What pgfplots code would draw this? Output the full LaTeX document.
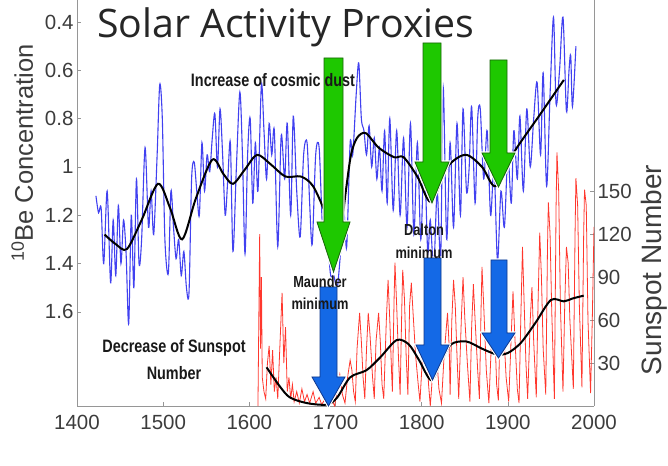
\documentclass[border=0pt]{standalone}
\usepackage{fontspec}
\setmainfont{Liberation Sans}
\newfontfamily\titlefont{Open Sans}
\newfontfamily\narrowbold[FakeStretch=0.8]{Liberation Sans}
\usepackage{graphicx}
\usepackage{pgfplots}
\usepackage{pgfplotstable}
\pgfplotsset{compat=1.18}
\definecolor{bline}{RGB}{65,65,240}
\definecolor{rline}{RGB}{255,55,45}
\definecolor{garrow}{RGB}{30,200,0}
\definecolor{garrowd}{RGB}{25,100,10}
\definecolor{barrow}{RGB}{20,105,230}
\definecolor{barrowd}{RGB}{15,55,140}
\definecolor{axgray}{RGB}{150,150,150}
\definecolor{txtgray}{RGB}{60,60,60}

\pgfplotstableread{
year be
1422 1.12
1425 1.19
1428 1.17
1431 1.40
1435 1.10
1439 1.48
1442 1.22
1445 1.45
1448 1.16
1451 1.40
1454 1.22
1457 1.36
1460 1.65
1463 1.20
1466 1.50
1469 1.05
1472 1.40
1475 1.30
1479 0.92
1483 1.25
1486 1.10
1489 1.28
1493 0.95
1496 0.66
1499 0.80
1502 1.30
1506 1.44
1509 1.10
1512 1.25
1515 1.38
1518 1.30
1521 1.45
1524 1.35
1527 1.50
1530 1.52
1533 1.05
1536 0.98
1539 1.10
1542 1.20
1545 0.90
1548 1.10
1551 0.95
1554 1.02
1557 0.88
1560 0.78
1563 1.00
1566 0.76
1569 0.95
1572 1.20
1575 1.05
1578 0.90
1581 1.35
1585 1.00
1589 0.69
1592 0.95
1595 1.36
1598 0.95
1601 0.80
1604 1.15
1607 0.90
1610 1.10
1614 0.66
1617 0.85
1620 1.05
1623 0.82
1626 0.95
1629 0.85
1633 1.33
1637 0.87
1641 1.05
1644 0.82
1648 1.20
1651 0.79
1655 1.10
1659 1.29
1663 0.95
1667 0.90
1670 1.15
1673 1.32
1677 0.95
1681 0.92
1685 1.25
1689 1.20
1694 1.44
1698 1.45
1702 1.50
1706 1.35
1710 1.20
1713 1.33
1717 0.90
1720 0.95
1724 0.70
1727 0.57
1730 0.80
1733 0.85
1736 0.95
1739 0.83
1742 1.00
1745 0.88
1748 1.05
1751 0.92
1754 1.10
1757 0.85
1760 1.15
1763 0.80
1767 1.18
1771 0.85
1775 1.20
1779 0.88
1783 1.25
1787 0.82
1791 1.28
1795 0.90
1799 1.30
1803 0.95
1807 1.35
1810 1.22
1814 1.42
1818 1.10
1822 1.38
1825 0.67
1829 1.30
1833 0.90
1837 1.25
1841 0.82
1845 1.20
1848 0.76
1852 1.10
1855 1.01
1858 0.75
1862 1.15
1865 0.80
1868 0.76
1872 1.05
1876 0.85
1880 1.20
1884 1.00
1888 1.39
1892 1.10
1896 1.25
1900 0.95
1904 1.15
1907 0.85
1911 1.05
1914 0.79
1918 1.10
1922 0.76
1926 1.00
1930 0.80
1934 0.65
1938 0.95
1941 0.61
1945 1.08
1949 0.70
1953 0.38
1956 0.74
1960 0.60
1964 0.38
1968 0.77
1971 0.60
1973 0.54
1975 0.75
1979 0.50
}\beData

\pgfplotstableread{
year be
1432 1.28
1445 1.32
1458 1.34
1475 1.22
1494 1.07
1508 1.17
1522 1.30
1538 1.13
1557 0.97
1570 1.03
1581 1.07
1595 1.01
1609 0.95
1625 0.99
1642 1.04
1660 1.04
1674 1.08
1688 1.19
1698 1.30
1706 1.26
1712 1.10
1718 0.95
1725 0.88
1735 0.86
1750 0.92
1768 0.96
1779 0.96
1795 1.04
1811 1.145
1830 1.00
1851 0.95
1870 1.00
1886 1.08
1907 0.94
1938 0.78
1965 0.64
}\beSmooth

\pgfplotstableread{
year ssn
1610 0
1611 60
1612 120
1613 40
1614 90
1615 20
1617 10
1619 5
1621 30
1623 42
1625 15
1627 39
1629 10
1631 20
1633 5
1636 50
1638 79
1640 30
1642 55
1644 10
1646 20
1648 5
1650 15
1652 3
1655 10
1658 2
1661 12
1664 3
1667 8
1670 2
1674 10
1677 2
1681 6
1684 1
1688 5
1692 0
1696 4
1699 0
1703 15
1705 22
1708 8
1711 2
1714 20
1717 32
1719 25
1721 10
1723 3
1725 40
1728 65
1730 45
1732 20
1734 5
1736 40
1738 65
1740 50
1743 20
1745 5
1747 45
1750 65
1752 45
1754 15
1756 5
1759 60
1761 88
1763 60
1765 25
1766 10
1768 75
1769 100
1771 70
1773 35
1775 8
1777 70
1778 95
1780 75
1782 35
1784 8
1786 70
1788 86
1790 65
1793 35
1796 15
1798 3
1801 35
1804 55
1806 35
1808 15
1810 0
1813 25
1816 50
1818 30
1820 12
1823 2
1826 35
1830 65
1832 40
1833 8
1835 60
1837 88
1839 70
1841 35
1843 5
1846 60
1848 90
1850 62
1853 30
1856 3
1858 55
1860 85
1862 60
1865 25
1867 5
1869 70
1870 97
1872 70
1875 25
1878 2
1881 45
1883 70
1885 50
1887 15
1889 4
1891 55
1893 76
1895 55
1898 20
1901 3
1904 50
1906 80
1908 50
1911 12
1913 2
1915 60
1917 111
1919 70
1921 30
1923 5
1926 60
1928 83
1930 45
1933 6
1935 70
1937 121
1939 90
1941 40
1944 8
1946 110
1947 142
1949 120
1951 65
1954 5
1956 140
1957 177
1959 150
1961 70
1964 10
1966 70
1968 111
1970 100
1972 60
1976 12
1978 120
1979 159
1981 140
1983 70
1986 13
1988 120
1989 151
1991 140
1993 60
1996 9
1998 60
2000 125
}\ssnData

\pgfplotstableread{
year ssn
1620 27
1635 14
1647 6
1667 2
1690 1
1702 6
1717 20
1736 25
1752 34
1771 46
1785 43
1797 32
1811 18
1822 30
1834 43
1852 45
1870 40
1887 36
1900 37
1915 44
1932 58
1950 74
1965 73
1975 75
1988 77
}\ssnSmooth

\begin{document}
\begin{tikzpicture}[x=1pt,y=1pt]
\useasboundingbox (-77,-59) rectangle (591,406);
% Axis A: Be scale, blue series
\begin{axis}[at={(0,0)}, anchor=south west, width=517pt, height=406pt, scale only axis,
  xmin=1400, xmax=2000, ymin=0.309, ymax=1.99, y dir=reverse,
  axis x line*=bottom, axis y line*=left,
  axis line style={axgray, line width=0.8pt},
  tick style={axgray, line width=0.6pt}, tick align=inside, major tick length=4pt,
  xtick={1400,1500,1600,1700,1800,1900,2000},
  xticklabels={1400,1500,1600,1700,1800,1900,2000},
  ytick={0.4,0.6,0.8,1,1.2,1.4,1.6},
  yticklabels={0.4,0.6,0.8,1,1.2,1.4,1.6},
  /pgf/number format/assume math mode=true,
  ticklabel style={font=\fontsize{20.5}{20.5}\selectfont, text=txtgray},
  xticklabel style={yshift=-6pt},
  clip=true]
\addplot[bline, line width=1.1pt, smooth, tension=0.5] table[x=year,y=be]{\beData};
\end{axis}
% Axis B: sunspot scale, red series and its smooth curve
\begin{axis}[at={(0,0)}, anchor=south west, width=517pt, height=406pt, scale only axis,
  xmin=1400, xmax=2000, ymin=0, ymax=283.3,
  axis x line=none, axis y line*=right,
  axis line style={axgray, line width=0.8pt},
  tick style={axgray, line width=0.6pt}, tick align=inside, major tick length=4pt,
  ytick={30,60,90,120,150}, yticklabels={30,60,90,120,150},
  ticklabel style={font=\fontsize{20.5}{20.5}\selectfont, text=txtgray}]
\addplot[rline, line width=0.8pt] table[x=year,y=ssn]{\ssnData};
\addplot[black, line width=2pt, smooth] table[x=year,y=ssn]{\ssnSmooth};
\end{axis}
% Axis C: Be smooth
\begin{axis}[at={(0,0)}, anchor=south west, width=517pt, height=406pt, scale only axis,
  xmin=1400, xmax=2000, ymin=0.309, ymax=1.99, y dir=reverse, hide axis]
\addplot[black, line width=2pt, smooth] table[x=year,y=be]{\beSmooth};
\end{axis}
% arrows (drawn over the curves, with a white edge)
\begin{scope}[line join=miter]
\tikzset{arr/.style={preaction={draw=white, line width=3pt}, line width=0.8pt}}
\filldraw[arr, fill=garrow, draw=garrowd] (247,348) -- (266,348) -- (266,184) -- (273,184) -- (256.5,134) -- (240,184) -- (247,184) -- cycle;
\filldraw[arr, fill=garrow, draw=garrowd] (346,363) -- (364,363) -- (364,244) -- (372,244) -- (355,203) -- (338,244) -- (346,244) -- cycle;
\filldraw[arr, fill=garrow, draw=garrowd] (413,346) -- (430,346) -- (430,253) -- (438,253) -- (421.5,219) -- (405,253) -- (413,253) -- cycle;
\filldraw[arr, fill=barrow, draw=barrowd] (243,119) -- (260,119) -- (260,29) -- (268,29) -- (251.5,0) -- (235,29) -- (243,29) -- cycle;
\filldraw[arr, fill=barrow, draw=barrowd] (347,148) -- (364,148) -- (364,61) -- (372,61) -- (355.5,26) -- (339,61) -- (347,61) -- cycle;
\filldraw[arr, fill=barrow, draw=barrowd] (414,146) -- (430,146) -- (430,73) -- (438,73) -- (421.5,48) -- (405,73) -- (414,73) -- cycle;
\end{scope}
% labels
\node[anchor=base west, inner sep=0, text=black!85] at (20,368) {\resizebox{377pt}{!}{\titlefont Solar Activity Proxies}};
\node[rotate=90, anchor=base, inner sep=0, text=txtgray, font=\fontsize{25.5}{25.5}\selectfont] at (-44,253) {\textsuperscript{10}Be Concentration};
\node[rotate=90, anchor=base, inner sep=0, text=txtgray, font=\fontsize{28}{28}\selectfont] at (584,136) {Sunspot Number};
\begin{scope}[every node/.style={inner sep=0, text=black!90}]
\node[font=\narrowbold\bfseries\fontsize{18}{18}\selectfont] at (196,326) {Increase of cosmic dust};
\node[font=\narrowbold\bfseries\fontsize{18}{18}\selectfont] at (97,58) {Decrease of Sunspot};
\node[font=\narrowbold\bfseries\fontsize{18}{18}\selectfont] at (97,33) {Number};
\node[font=\narrowbold\bfseries\fontsize{16}{16}\selectfont] at (243,124) {Maunder};
\node[font=\narrowbold\bfseries\fontsize{16}{16}\selectfont] at (243,102) {minimum};
\node[font=\narrowbold\bfseries\fontsize{16}{16}\selectfont] at (347,176) {Dalton};
\node[font=\narrowbold\bfseries\fontsize{16}{16}\selectfont] at (347,153) {minimum};
\end{scope}
\end{tikzpicture}
\end{document}
